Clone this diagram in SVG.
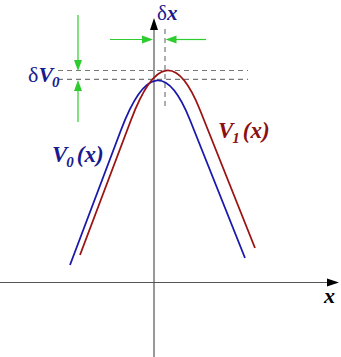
<svg xmlns="http://www.w3.org/2000/svg" width="341" height="357" viewBox="0 0 341 357">
<style>
.axis{stroke:#555;stroke-width:1.2;fill:none}
.dash{stroke:#777;stroke-width:1.2;stroke-dasharray:5 4;fill:none}
.grn{stroke:#2ecc2e;stroke-width:1.2;fill:none}
.gh{fill:#2ecc2e}
.blue{stroke:#1a1aaa;stroke-width:1.8;fill:none}
.red{stroke:#9b1414;stroke-width:1.8;fill:none}
text{font-family:"Liberation Serif","Times New Roman",serif}
.bl{fill:#1a1a8f}
.rd{fill:#8b1010}
.bi{font-style:italic;font-weight:bold}
</style>
<g id="axes">
<line class="axis" x1="154" y1="28" x2="154" y2="357"/>
<polygon points="154,18 150,30 158,30" fill="#000"/>
<line class="axis" x1="0" y1="282.5" x2="328" y2="282.5"/>
<polygon points="339,282.5 327,278.5 327,286.5" fill="#000"/>
</g>
<g id="guides">
<line class="dash" x1="58" y1="70.5" x2="248" y2="70.5"/>
<line class="dash" x1="58" y1="79.3" x2="248" y2="79.3"/>
<line class="dash" x1="165" y1="29" x2="165" y2="110"/>
</g>
<g id="connectors">
<line class="grn" x1="110" y1="39.5" x2="143" y2="39.5"/>
<polygon class="gh" points="153,39.5 142,35.5 142,43.5"/>
<line class="grn" x1="206" y1="39.5" x2="175" y2="39.5"/>
<polygon class="gh" points="165.5,39.5 176.5,35.5 176.5,43.5"/>
<line class="grn" x1="78" y1="15" x2="78" y2="61"/>
<polygon class="gh" points="78,71 74,60 82,60"/>
<line class="grn" x1="78" y1="122" x2="78" y2="90"/>
<polygon class="gh" points="78,80 74,91 82,91"/>
</g>
<g id="curve-V0">
<path class="blue" d="M70 265 L121 130 Q156.4 36.2 190 120 L245 258"/>
</g>
<g id="curve-V1">
<path class="red" d="M80 255 L131 120 Q166.4 26.2 200 110 L255 248"/>
</g>
<g id="labels">
<text class="bl" x="157" y="20" font-size="21">δ<tspan class="bi">x</tspan></text>
<text class="bl" x="28" y="82" font-size="22">δ<tspan class="bi">V</tspan><tspan class="bi" font-size="15" dy="5" dx="-1">0</tspan></text>
<text class="bl" x="52" y="162" font-size="23"><tspan class="bi">V</tspan><tspan class="bi" font-size="15" dy="5" dx="-1">0</tspan><tspan class="bi" dy="-5" dx="3">(x)</tspan></text>
<text class="rd" x="218" y="138" font-size="23"><tspan class="bi">V</tspan><tspan class="bi" font-size="15" dy="5" dx="-1">1</tspan><tspan class="bi" dy="-5" dx="3">(x)</tspan></text>
<text class="bi" x="324" y="303" font-size="22" fill="#000">x</text>
</g>
</svg>
